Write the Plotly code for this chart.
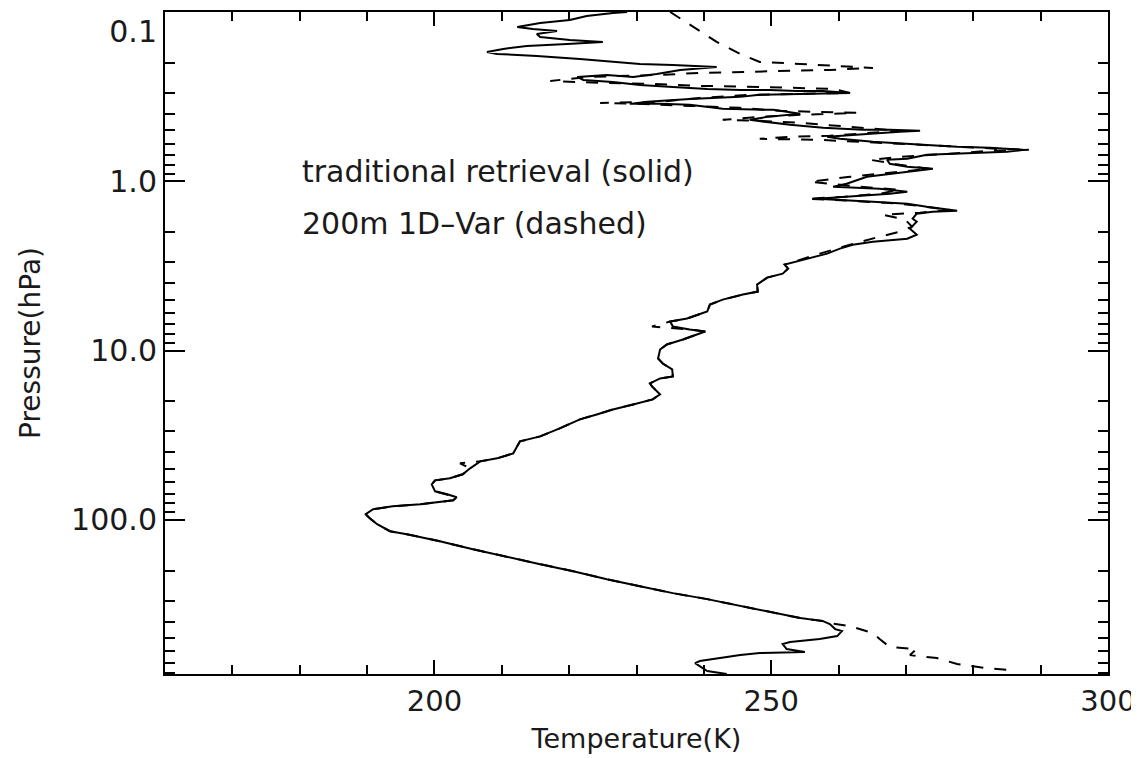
import numpy as np
import plotly.graph_objects as go

# Traditional retrieval (solid) - temperature (K) and pressure (hPa), top to bottom
solid_T = [228.6, 226.5, 222.6, 220.1, 215.7, 212.3, 214.6, 218.2, 215.2, 215.7,
           220.1, 225.0, 219.7, 213.7, 210.2, 207.8, 209.3, 215.2, 221.6, 225.6,
           230.5, 235.4, 241.9, 236.5, 233.0, 229.5, 225.6, 221.2, 222.1, 226.5,
           230.5, 235.4, 240.5, 245.4, 249.8, 253.8, 257.7, 261.7, 252.3, 247.9,
           245.4, 237.9, 231.6, 229.0, 233.5, 237.9, 242.8, 247.3, 250.3, 254.3,
           249.4, 246.8, 250.3, 252.8, 257.7, 263.6, 267.6, 272.1, 269.1, 262.7,
           258.3, 260.2, 265.1, 272.5, 277.6, 282.5, 287.4, 285.0, 278.0, 273.1,
           270.2, 267.2, 267.6, 270.2, 274.0, 270.2, 268.1, 266.1, 264.2, 261.2,
           259.2, 266.1, 270.2, 267.6, 260.2, 256.8, 265.1, 270.2, 273.1, 275.1,
           277.6, 274.0, 271.6, 271.0, 271.6, 270.6, 271.6, 270.2, 265.1, 262.1,
           260.2, 258.3, 254.7, 252.0, 252.5, 251.7, 249.4, 247.9, 248.0, 245.8,
           242.8, 240.9, 240.5, 237.5, 235.0, 235.4, 237.9, 240.2, 236.9, 234.5,
           233.5, 233.2, 233.9, 235.3, 235.4, 233.5, 232.0, 232.3, 233.5, 232.4,
           229.5, 226.5, 224.1, 221.6, 218.6, 215.7, 212.7, 212.3, 211.7, 209.3,
           206.8, 205.3, 204.2, 202.3, 200.1, 199.6, 200.1, 201.9, 203.3, 202.8,
           197.9, 193.8, 190.9, 189.8, 190.4, 191.5, 193.4, 195.9, 200.8, 205.7,
           210.8, 215.7, 220.6, 225.6, 230.5, 235.4, 240.5, 245.4, 250.3, 254.3,
           257.7, 258.7, 259.5, 260.5, 259.8, 257.2, 252.8, 251.7, 252.3, 255.0,
           248.3, 245.4, 239.4, 238.7, 240.5, 243.4]
solid_p = [0.1, 0.1014, 0.1056, 0.1115, 0.1161, 0.1226, 0.126, 0.1295, 0.1348, 0.1404,
           0.1463, 0.1503, 0.1545, 0.1587, 0.1653, 0.1722, 0.1769, 0.1818, 0.1894, 0.1946,
           0.2027, 0.2055, 0.2111, 0.2199, 0.2322, 0.2418, 0.2353, 0.2418, 0.2519, 0.2588,
           0.2696, 0.277, 0.2847, 0.2886, 0.2886, 0.2925, 0.2925, 0.3006, 0.3047, 0.3089,
           0.3173, 0.3261, 0.3396, 0.349, 0.349, 0.3537, 0.3735, 0.3786, 0.3786, 0.3998,
           0.4165, 0.4338, 0.4518, 0.4642, 0.4835, 0.4968, 0.4968, 0.5036, 0.5105, 0.5318,
           0.5464, 0.5615, 0.5848, 0.6092, 0.6259, 0.6345, 0.652, 0.6699, 0.6883, 0.6978,
           0.7367, 0.7468, 0.7886, 0.8214, 0.844, 0.879, 0.9032, 0.9156, 0.9408, 1.034,
           1.077, 1.107, 1.153, 1.185, 1.234, 1.268, 1.321, 1.357, 1.414, 1.453,
           1.493, 1.513, 1.555, 1.664, 1.734, 1.906, 2.069, 2.184, 2.275, 2.37,
           2.502, 2.678, 2.905, 3.109, 3.283, 3.513, 3.709, 4.079, 4.487, 4.674,
           5.003, 5.354, 5.888, 6.474, 6.743, 7.218, 7.518, 7.725, 8.612, 9.218,
           9.865, 11.15, 11.93, 12.94, 14.23, 14.63, 15.65, 16.31, 18.18, 19.46,
           20.83, 22.29, 23.86, 25.53, 28.85, 32.17, 34.43, 36.85, 40.52, 43.37,
           45.17, 49.68, 53.89, 56.9, 58.48, 61.75, 67.92, 70.72, 73.67, 76.74,
           81.03, 83.26, 86.73, 92.81, 98.0, 106.3, 116.9, 121.7, 133.9, 149.3,
           166.4, 183.0, 201.3, 224.4, 246.8, 271.4, 294.4, 323.8, 356.1, 381.1,
           397.0, 413.5, 442.6, 454.8, 486.8, 507.0, 528.1, 542.6, 580.8, 604.9,
           613.2, 630.1, 683.7, 702.5, 783.1, 815.4]

# 200m 1D-Var (dashed)
dashed_T = [235.0, 238.4, 241.9, 245.4, 248.3, 254.3, 260.2, 265.1, 258.7, 251.3,
            244.3, 239.4, 233.5, 227.5, 223.1, 217.2, 224.6, 232.0, 239.4, 248.3,
            254.3, 259.2, 261.7, 252.8, 246.8, 239.4, 233.5, 224.6, 230.5, 237.9,
            245.4, 251.3, 262.7, 254.3, 248.3, 242.8, 248.3, 254.3, 263.6, 269.1,
            264.7, 258.7, 252.8, 248.3, 257.2, 266.1, 273.6, 284.0, 288.4, 282.5,
            276.5, 269.1, 264.7, 269.1, 273.6, 269.1, 261.7, 255.8, 263.2, 269.1,
            266.1, 260.9, 255.3, 261.7, 269.1, 276.5, 272.1, 266.6, 269.9, 270.9,
            269.1, 266.1, 261.7, 257.2, 254.3, 252.0, 252.5, 251.7, 249.4, 247.9,
            248.0, 245.8, 242.8, 240.9, 240.5, 237.5, 235.0, 232.3, 237.9, 240.2,
            236.9, 234.5, 233.5, 233.2, 233.9, 235.3, 235.4, 233.5, 232.0, 232.3,
            233.5, 232.4, 229.5, 226.5, 224.1, 221.6, 218.6, 215.7, 212.7, 212.3,
            211.7, 209.3, 206.8, 203.8, 205.3, 204.2, 202.3, 200.1, 199.6, 200.1,
            201.9, 203.3, 202.8, 197.9, 193.8, 190.9, 189.8, 190.4, 191.5, 193.4,
            195.9, 200.8, 205.7, 210.8, 215.7, 220.6, 225.6, 230.5, 235.4, 240.5,
            245.4, 250.3, 254.3, 257.7, 258.7, 261.7, 265.1, 266.1, 267.6, 271.6,
            270.6, 274.6, 277.6, 281.7, 285.4, 286.2]
dashed_p = [0.1, 0.1226, 0.1503, 0.1769, 0.1972, 0.2027, 0.2083, 0.214, 0.2199, 0.2229,
            0.2259, 0.2291, 0.2353, 0.2385, 0.2418, 0.2553, 0.2624, 0.266, 0.2733, 0.277,
            0.2809, 0.2847, 0.3006, 0.3047, 0.3089, 0.3217, 0.3396, 0.3443, 0.349, 0.3587,
            0.3685, 0.3838, 0.3944, 0.4053, 0.4165, 0.4338, 0.4397, 0.4518, 0.4835, 0.5036,
            0.5176, 0.5391, 0.5464, 0.5615, 0.5692, 0.5929, 0.6175, 0.6432, 0.652, 0.6609,
            0.6883, 0.7171, 0.7468, 0.7994, 0.844, 0.879, 0.9408, 1.007, 1.077, 1.122,
            1.185, 1.234, 1.268, 1.303, 1.357, 1.473, 1.534, 1.577, 1.687, 1.855,
            1.986, 2.126, 2.37, 2.678, 2.905, 3.109, 3.283, 3.513, 3.709, 4.079,
            4.487, 4.674, 5.003, 5.354, 5.888, 6.474, 6.743, 7.218, 7.518, 7.725,
            8.612, 9.218, 9.865, 11.15, 11.93, 12.94, 14.23, 14.63, 15.65, 16.31,
            18.18, 19.46, 20.83, 22.29, 23.86, 25.53, 28.85, 32.17, 34.43, 36.85,
            40.52, 43.37, 45.17, 46.42, 49.68, 53.89, 56.9, 58.48, 61.75, 67.92,
            70.72, 73.67, 76.74, 81.03, 83.26, 86.73, 92.81, 98.0, 106.3, 116.9,
            121.7, 133.9, 149.3, 166.4, 183.0, 201.3, 224.4, 246.8, 271.4, 294.4,
            323.8, 356.1, 381.1, 397.0, 408.0, 425.0, 467.3, 507.0, 565.2, 580.8,
            630.1, 656.3, 712.3, 751.6, 772.3, 815.4]

x_tickvals = [200, 250, 300]
x_ticktext = ["200", "250", "300"]
y_tickvals = [0.1, 1.0, 10.0, 100.0]
y_ticktext = ["<br>0.1", "1.0", "10.0", "100.0"]
y_minor_vals = [m * 10.0 ** e for e in range(-1, 3) for m in range(2, 10)]

FONT = "DejaVu Sans"
INK = "#1a1a1a"

fig = go.Figure()
fig.add_trace(go.Scatter(x=dashed_T, y=dashed_p, mode="lines",
                         line=dict(color="black", width=2, dash="12px,11px"),
                         showlegend=False, hoverinfo="skip"))
fig.add_trace(go.Scatter(x=solid_T, y=solid_p, mode="lines",
                         line=dict(color="black", width=2),
                         showlegend=False, hoverinfo="skip"))

fig.add_annotation(text="traditional retrieval (solid)", xref="paper", yref="paper",
                   x=0.143, y=0.759, xanchor="left", yanchor="middle", showarrow=False,
                   font=dict(family=FONT, size=30, color=INK))
fig.add_annotation(text="200m 1D\u2013Var (dashed)", xref="paper", yref="paper",
                   x=0.143, y=0.681, xanchor="left", yanchor="middle", showarrow=False,
                   font=dict(family=FONT, size=30, color=INK))

fig.update_xaxes(range=[160, 300], tickmode="array", tickvals=x_tickvals, ticktext=x_ticktext,
                 ticks="inside", ticklen=14, tickwidth=1.5, tickcolor="black",
                 minor=dict(ticks="inside", dtick=10, tick0=0, ticklen=9, tickwidth=1.5, tickcolor="black"),
                 showline=True, linecolor="black", linewidth=2, mirror="allticks",
                 showgrid=False, zeroline=False,
                 tickfont=dict(family=FONT, size=29, color=INK),
                 title=dict(text="Temperature(K)", font=dict(family=FONT, size=27, color=INK), standoff=12))
fig.update_yaxes(type="log", range=[np.log10(815.4), -1],
                 tickmode="array", tickvals=y_tickvals, ticktext=y_ticktext,
                 ticks="inside", ticklen=20, tickwidth=1.5, tickcolor="black",
                 minor=dict(ticks="inside", tickmode="array", tickvals=y_minor_vals, ticklen=10,
                            tickwidth=1.5, tickcolor="black"),
                 showline=True, linecolor="black", linewidth=2, mirror="allticks",
                 showgrid=False, zeroline=False,
                 tickfont=dict(family=FONT, size=30, color=INK),
                 title=dict(text="Pressure(hPa)", font=dict(family=FONT, size=28, color=INK), standoff=22))

# the page body adds an 8px offset, so the figure is 8px smaller and margins compensate
fig.update_layout(width=1131, height=750, margin=dict(l=157, r=31, t=2, b=84),
                  plot_bgcolor="white", paper_bgcolor="white")

fig.write_html("out.html")
